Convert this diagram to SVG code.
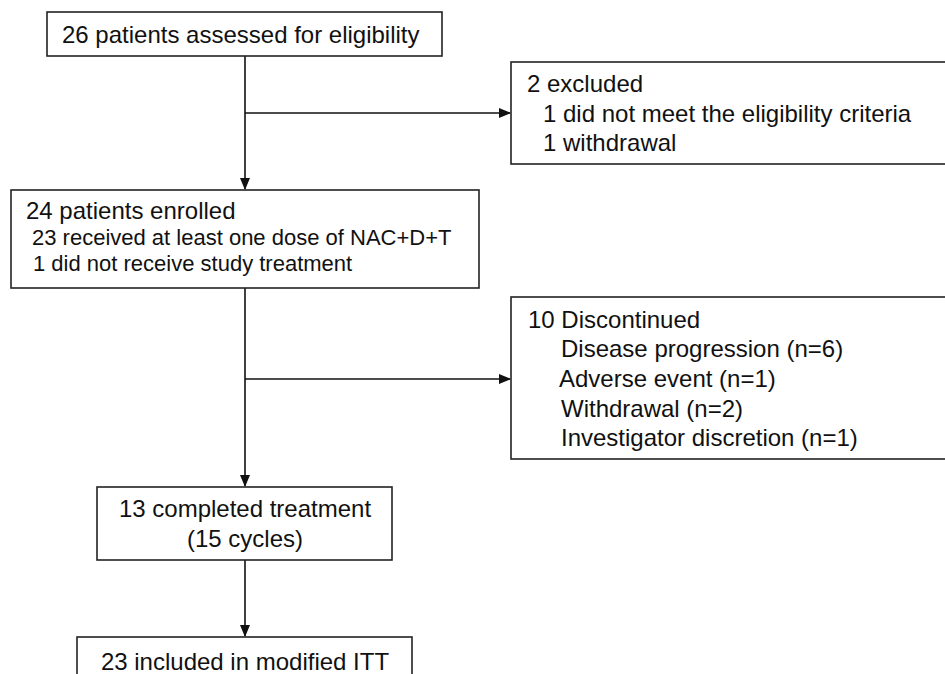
<svg xmlns="http://www.w3.org/2000/svg" width="945" height="674" viewBox="0 0 945 674">
<style>
.box{fill:#fff;stroke:#222;stroke-width:1.6}
.t{font-family:"Liberation Sans",Arial,sans-serif;font-size:24px;fill:#111}
.s{font-size:22px}
.c{text-anchor:middle}
.ln{stroke:#111;stroke-width:1.6;fill:none}
</style>
<defs>
<marker id="ah" markerWidth="12" markerHeight="10" refX="11" refY="5" orient="auto" markerUnits="userSpaceOnUse">
<path d="M0,0 L12,5 L0,10 Z" fill="#111"/>
</marker>
</defs>
<rect width="945" height="674" fill="#fff"/>
<g id="connectors">
<line class="ln" x1="245" y1="56" x2="245" y2="189" marker-end="url(#ah)"/>
<line class="ln" x1="245" y1="113" x2="510" y2="113" marker-end="url(#ah)"/>
<line class="ln" x1="245" y1="288" x2="245" y2="486" marker-end="url(#ah)"/>
<line class="ln" x1="245" y1="379" x2="510" y2="379" marker-end="url(#ah)"/>
<line class="ln" x1="245" y1="560" x2="245" y2="636" marker-end="url(#ah)"/>
</g>
<g id="assessed">
<rect class="box" x="47" y="12" width="395" height="44"/>
<text class="t" x="62" y="43">26 patients assessed for eligibility</text>
</g>
<g id="excluded">
<rect class="box" x="511" y="62" width="440" height="102"/>
<text class="t" x="527" y="92">2 excluded</text>
<text class="t" x="543" y="122">1 did not meet the eligibility criteria</text>
<text class="t" x="543" y="151">1 withdrawal</text>
</g>
<g id="enrolled">
<rect class="box" x="11" y="190" width="468" height="98"/>
<text class="t" x="26" y="219">24 patients enrolled</text>
<text class="t s" x="32" y="245">23 received at least one dose of NAC+D+T</text>
<text class="t s" x="33" y="271">1 did not receive study treatment</text>
</g>
<g id="discontinued">
<rect class="box" x="511" y="297" width="440" height="162"/>
<text class="t" x="528" y="328">10 Discontinued</text>
<text class="t" x="561" y="357">Disease progression (n=6)</text>
<text class="t" x="559" y="387">Adverse event (n=1)</text>
<text class="t" x="561" y="417">Withdrawal (n=2)</text>
<text class="t" x="561" y="446">Investigator discretion (n=1)</text>
</g>
<g id="completed">
<rect class="box" x="97" y="487" width="295" height="73"/>
<text class="t c" x="245" y="517">13 completed treatment</text>
<text class="t c" x="245" y="547">(15 cycles)</text>
</g>
<g id="itt">
<rect class="box" x="77" y="637" width="335" height="60"/>
<text class="t c" x="245" y="670">23 included in modified ITT</text>
</g>
</svg>
